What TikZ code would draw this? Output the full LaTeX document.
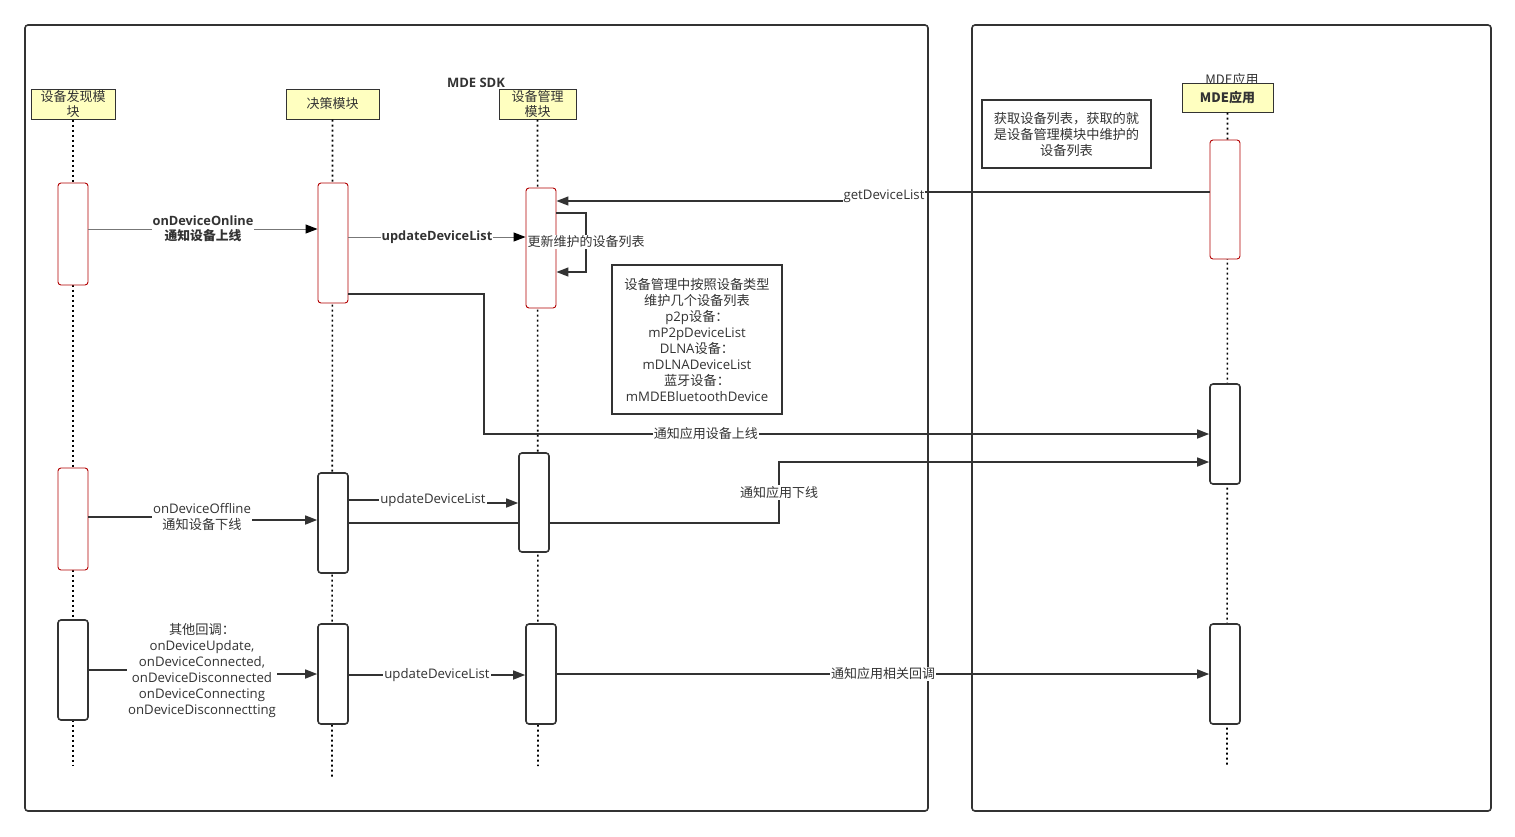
\documentclass[tikz,border=0pt]{standalone}
\usepackage{fontspec}
\setmainfont{Open Sans}
\newfontfamily\cjk{Noto Sans CJK SC}
\usetikzlibrary{arrows.meta}
\definecolor{ink}{HTML}{333333}
\definecolor{soft}{HTML}{777777}
\definecolor{headfill}{HTML}{FFFFC0}
\definecolor{actred}{HTML}{B20000}

\tikzset{
  frame/.style={draw=ink, line width=1.6pt, rounded corners=3pt},
  head/.style={draw=ink, fill=headfill, line width=1pt, minimum height=30pt,
    inner sep=0pt, align=center, text=ink, font=\cjk\fontsize{13}{15}\selectfont},
  life/.style={draw=black, line width=1.6pt, dash pattern=on 2pt off 3pt},
  actr/.style={draw=actred, fill=white, line width=0.9pt, rounded corners=3pt,
    minimum width=30pt, inner sep=0pt},
  actk/.style={draw=ink, fill=white, line width=1.6pt, rounded corners=3pt,
    minimum width=30pt, inner sep=0pt},
  msg/.style={draw=ink, line width=1.5pt, -{Triangle[length=12pt,width=9pt]}},
  msgthin/.style={draw=soft, line width=1pt, -{Triangle[length=12pt,width=9pt,fill=black,color=black]}},
  plain/.style={draw=ink, line width=1.5pt},
  lbl/.style={fill=white, inner sep=1pt, text=ink, align=center,
    font=\fontsize{13.2}{16}\selectfont},
  lblc/.style={lbl, font=\cjk\fontsize{13}{16}\selectfont},
  lblb/.style={lbl, font=\bfseries\fontsize{12.8}{15}\selectfont},
  note/.style={draw=ink, line width=1.6pt, fill=white, align=center, text=ink,
    inner sep=0pt, font=\fontsize{13.2}{16}\selectfont},
}

\begin{document}
\begin{tikzpicture}[x=1pt,y=-1pt]
\useasboundingbox (0,0) rectangle (1515,836);

% system frames
\draw[frame] (25,25) rectangle (928,811);
\draw[frame] (972,25) rectangle (1491,811);
\node[text=ink, font=\bfseries\fontsize{13}{14}\selectfont] (sdk) at (476,83) {MDE SDK};

% lifeline heads
\node[text=ink, font=\cjk\fontsize{13}{14}\selectfont] (apptitle) at (1232,80) {MDE应用};
\node[head, minimum width=84pt] (h1) at (73,104) {设备发现模\\块};
\node[head, minimum width=93pt] (h2) at (332.5,104) {决策模块};
\node[head, minimum width=77pt] (h3) at (537.5,104) {设备管理\\模块};
\node[head, minimum width=91pt, minimum height=29pt, font=\bfseries\cjk\fontsize{13}{15}\selectfont] (h4) at (1227.5,97.5) {MDE应用};

% lifeline ends
\coordinate (e1) at (73,766);
\coordinate (e2) at (332,778);
\coordinate (e3) at (538,766);
\coordinate (e4) at (1227,766);
\draw[life] (h1.south) -- (e1);
\draw[life] (h2.south) -- (e2);
\draw[life] (h3.south) -- (e3);
\draw[life] (h4.south) -- (e4);

% notes
\node[note, minimum width=170pt, minimum height=149pt] (n1) at (697,339.5)
  {{\cjk 设备管理中按照设备类型}\\{\cjk 维护几个设备列表}\\p2p{\cjk 设备：}\\mP2pDeviceList\\DLNA{\cjk 设备：}\\mDLNADeviceList\\{\cjk 蓝牙设备：}\\mMDEBluetoothDevice};
\node[note, minimum width=169pt, minimum height=68pt] (n2) at (1066.5,134)
  {{\cjk 获取设备列表，获取的就}\\{\cjk 是设备管理模块中维护的}\\{\cjk 设备列表}};

% activation bars
\node[actr, minimum height=102pt] (a1) at (73,234) {};
\node[actr, minimum height=120pt] (b1) at (333,243) {};
\node[actr, minimum height=120pt] (c1) at (541,248) {};
\node[actr, minimum height=119pt] (d1) at (1225,199.5) {};
\node[actk, minimum height=100pt] (d2) at (1225,434) {};
\node[actr, minimum height=102pt] (a2) at (73,519) {};
\node[actk, minimum height=100pt] (b2) at (333,523) {};
\node[actk, minimum height=99pt] (c2) at (534,502.5) {};
\node[actk, minimum height=100pt] (a3) at (73,670) {};
\node[actk, minimum height=100pt] (b3) at (333,674) {};
\node[actk, minimum height=100pt] (c3) at (541,674) {};
\node[actk, minimum height=100pt] (d3) at (1225,674) {};

% device online
\draw[msgthin] (a1.east |- 0,229) -- node[lblb] {onDeviceOnline\\{\cjk 通知设备上线}} (b1.west |- 0,229);
\draw[msgthin] (b1.east |- 0,237) -- node[lblb] {updateDeviceList} (c1.west |- 0,237);

% get device list
\draw[msg] (d1.west |- 0,192) -- (884,192) -- (884,201) -- (c1.east |- 0,201);
\node[lbl] (getlbl) at (884,196) {getDeviceList};

% self refresh
\draw[msg] (c1.east |- 0,213) -- (586,213) -- (586,272) -- (c1.east |- 0,272);
\node[lblc] (selflbl) at (586,242) {更新维护的设备列表};

% notify app online
\draw[msg] (b1.east |- 0,294) -- (484,294) -- (484,434)
  -- node[lblc, pos=0.306] {通知应用设备上线} (d2.west |- 0,434);

% device offline
\draw[msg] (a2.east |- 0,517) -- (202,517) -- (202,520) -- (b2.west |- 0,520);
\node[lbl] (offlbl) at (202,517) {onDeviceOffline\\{\cjk 通知设备下线}};
\draw[msg] (b2.east |- 0,500) -- (433,500) -- (433,503) -- (c2.west |- 0,503);
\node[lbl] (upd2) at (433,500) {updateDeviceList};
\draw[plain] (b2.east |- 0,523) -- (c2.west |- 0,523);
\draw[msg] (c2.east |- 0,523) -- (779,523)
  -- node[lblc] {通知应用下线} (779,462) -- (d2.west |- 0,462);

% other callbacks
\draw[msg] (a3.east |- 0,670) -- (202,670) -- (202,674) -- (b3.west |- 0,674);
\node[lbl] (otherlbl) at (202,671) {{\cjk 其他回调：}\\onDeviceUpdate,\\onDeviceConnected,\\onDeviceDisconnected\\onDeviceConnecting\\onDeviceDisconnectting};
\draw[msg] (b3.east |- 0,675) -- node[lbl] {updateDeviceList} (c3.west |- 0,675);
\draw[msg] (c3.east |- 0,674) -- node[lblc] {通知应用相关回调} (d3.west |- 0,674);

\end{tikzpicture}
\end{document}
